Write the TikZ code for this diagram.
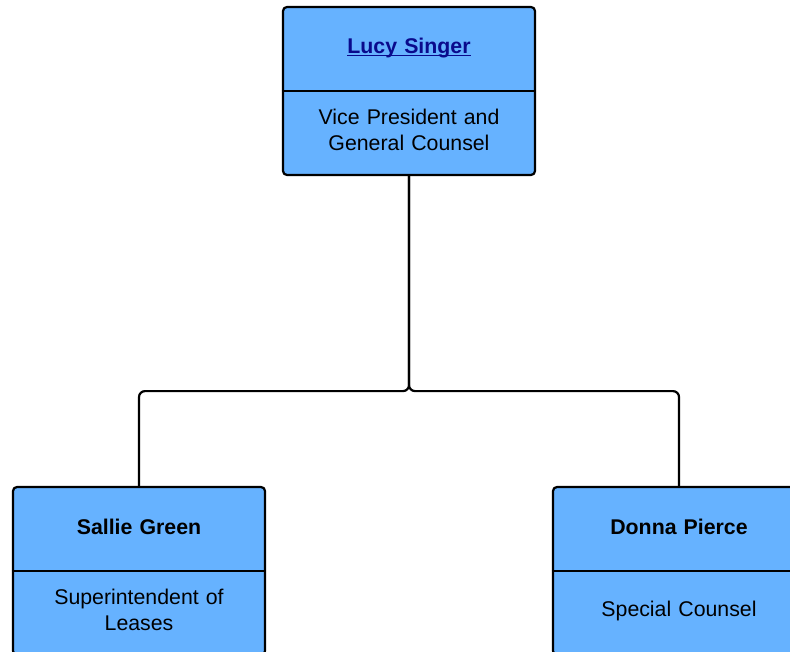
\documentclass[tikz,border=0pt]{standalone}
\usepackage{fontspec}
\setmainfont{Liberation Sans}
\usepackage{xcolor}
\usetikzlibrary{positioning}

\definecolor{cardblue}{HTML}{66B2FF}
\definecolor{linkblue}{HTML}{0A0A8C}
\newcommand\linkul[1]{\leavevmode\setbox0=\hbox{#1}\rlap{\copy0}\rule[-3.2pt]{\wd0}{1.8pt}}

\begin{document}
\begin{tikzpicture}[
    x=1pt, y=-1pt,
    card/.style={rectangle, draw, line width=2.2pt, rounded corners=4pt, fill=cardblue, minimum width=252pt, minimum height=168pt, inner sep=0pt},
    namebox/.style={inner sep=0pt, minimum height=84pt, text width=240pt, align=center, font=\fontsize{21.3pt}{26pt}\selectfont\bfseries},
    rolebox/.style={inner sep=0pt, minimum height=84pt, text width=240pt, align=center, font=\fontsize{21.3pt}{26pt}\selectfont},
    link/.style={line width=2.2pt, rounded corners=6pt}
]
    \clip (0,0) rectangle (790,652);

    \node[card] (lucy) at (409,91) {};
    \node[card] (sallie) at (139,571) {};
    \node[card] (donna) at (679,571) {};

    % dividers
    \draw[line width=2.2pt] (lucy.west) -- (lucy.east);
    \draw[line width=2.2pt] (sallie.west) -- (sallie.east);
    \draw[line width=2.2pt] (donna.west) -- (donna.east);

    \node[namebox, anchor=south] (lucyname) at ([yshift=1pt]lucy.center) {\textcolor{linkblue}{\linkul{Lucy Singer}}};
    \node[rolebox, anchor=north] (lucyrole) at ([yshift=3pt]lucy.center) {Vice President and\\General Counsel};
    \node[namebox, anchor=south] (salliename) at ([yshift=2pt]sallie.center) {Sallie Green};
    \node[rolebox, anchor=north] (sallierole) at ([yshift=3pt]sallie.center) {Superintendent of\\Leases};
    \node[namebox, anchor=south] (donnaname) at ([yshift=2pt]donna.center) {Donna Pierce};
    \node[rolebox, anchor=north] (donnarole) at ([yshift=2pt]donna.center) {Special Counsel};

    \draw[link] (lucy.south) -- ++(0,215) -| (sallie.north);
    \draw[link] (lucy.south) -- ++(0,215) -| (donna.north);

\end{tikzpicture}
\end{document}
